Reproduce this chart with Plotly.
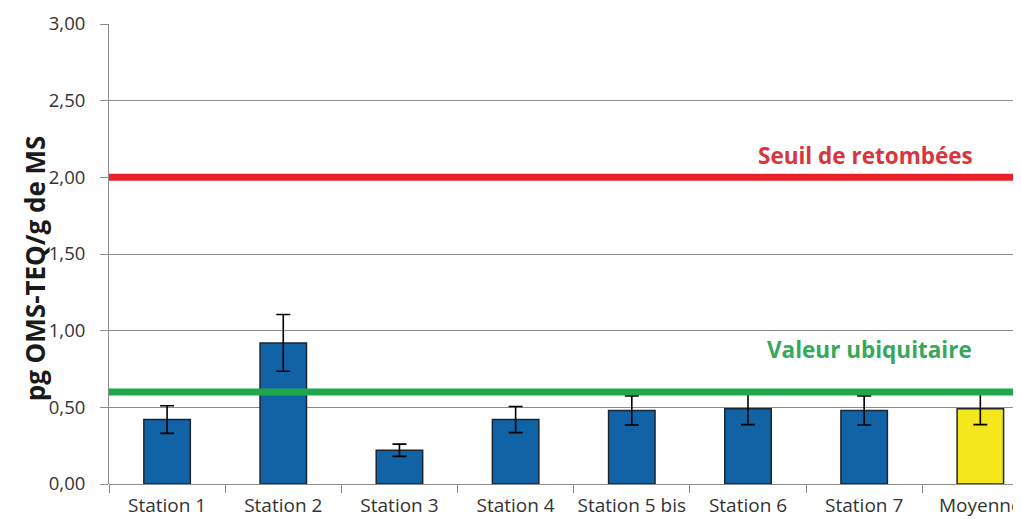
import plotly.graph_objects as go

# Données
stations = ['Station 1', 'Station 2', 'Station 3', 'Station 4', 'Station 5 bis',
            'Station 6', 'Station 7', 'Moyenne']
valeurs = [0.42, 0.92, 0.22, 0.42, 0.48, 0.49, 0.48, 0.49]
erreurs = [0.09, 0.185, 0.04, 0.085, 0.095, 0.103, 0.095, 0.103]
couleurs = ['#1262a6'] * 7 + ['#f4e81c']

seuil_retombees = 2.0
valeur_ubiquitaire = 0.6
yticks = [0, 0.5, 1.0, 1.5, 2.0, 2.5, 3.0]
yticklabels = ['0,00', '0,50', '1,00', '1,50', '2,00', '2,50', '3,00']

fig = go.Figure()

fig.add_trace(go.Bar(
    x=stations, y=valeurs, width=0.4,
    marker=dict(color=couleurs, line=dict(color='#1b2633', width=1.5)),
    error_y=dict(type='data', array=erreurs, color='black', thickness=1.6, width=7),
    showlegend=False,
))

# Lignes de référence
fig.add_hline(y=seuil_retombees, line_color='#e8212b', line_width=7, layer='above')
fig.add_hline(y=valeur_ubiquitaire, line_color='#1ea84b', line_width=7, layer='above')

fig.add_annotation(x=0.9496, xref='paper', xanchor='right', y=seuil_retombees, yref='y',
                   yshift=22, text='<b>Seuil de retombées</b>', showarrow=False,
                   font=dict(family='Open Sans', size=22.5, color='#d9353d'))
fig.add_annotation(x=0.948, xref='paper', xanchor='right', y=valeur_ubiquitaire, yref='y',
                   yshift=43, text='<b>Valeur ubiquitaire</b>', showarrow=False,
                   font=dict(family='Open Sans', size=22.5, color='#35a85c'))

# Titre de l'axe Y
fig.add_annotation(x=-0.0811, xref='paper', xanchor='center', y=0.469, yref='paper',
                   yanchor='middle', textangle=-90,
                   text='<b>pg OMS-TEQ/g de MS</b>', showarrow=False,
                   font=dict(family='Open Sans', size=26, color='#1a1a1a'))

# la page html ajoute 8 px de marge autour du graphique
fig.update_layout(
    width=1013, height=511,
    margin=dict(l=101, r=0, t=16, b=35),
    plot_bgcolor='white', paper_bgcolor='white',
    font=dict(family='Open Sans', color='#333333'),
)

fig.update_xaxes(
    range=[-0.5, 7.35], automargin=False, tickangle=0,
    tickson='boundaries', ticks='outside', ticklen=8, tickcolor='#8c8c8c',
    showline=False, showgrid=False,
    tickfont=dict(size=19, color='#333333'),
    ticklabelstandoff=8,
)
fig.update_yaxes(
    range=[0, 3.0], automargin=False, tickvals=yticks, ticktext=yticklabels,
    ticks='outside', ticklen=8, tickcolor='#8c8c8c',
    showgrid=True, gridcolor='#8c8c8c', gridwidth=1,
    showline=True, linecolor='#8c8c8c', linewidth=1,
    zeroline=True, zerolinecolor='#8c8c8c', zerolinewidth=1,
    tickfont=dict(size=18.5, color='#333333'),
    ticklabelstandoff=11,
)

fig.write_html('out.html')
